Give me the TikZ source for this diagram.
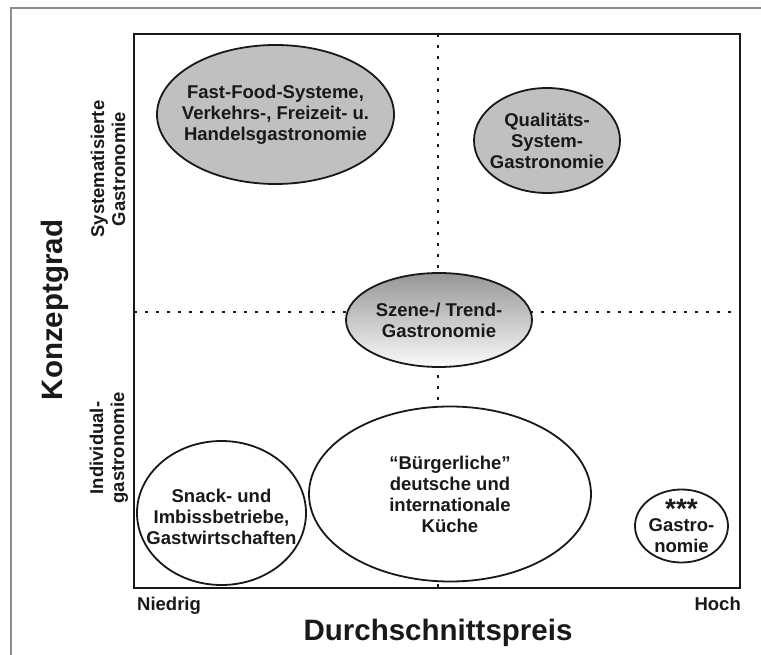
\documentclass[tikz,border=0pt]{standalone}
\usepackage{fontspec}
\setmainfont{Liberation Sans}
\usetikzlibrary{shapes.geometric}
\definecolor{ellgray}{RGB}{192,192,192}
\definecolor{txtcol}{RGB}{25,25,25}
\definecolor{framegray}{RGB}{140,140,140}
\tikzset{
  oval/.style={ellipse, draw=txtcol, line width=1.8pt, inner sep=0pt},
  grayoval/.style={oval, fill=ellgray},
  whiteoval/.style={oval, fill=white},
  txt/.style={text=txtcol, font=\bfseries\fontsize{18.5}{21}\selectfont, align=center, inner sep=0pt},
  axlabel/.style={text=txtcol, font=\bfseries\fontsize{29.5}{34}\selectfont, inner sep=0pt},
  dotline/.style={line width=1.4pt, dash pattern=on 3pt off 8pt, txtcol}
}
\begin{document}
\begin{tikzpicture}[x=1pt,y=-1pt]
\useasboundingbox (0,0) rectangle (761,655);
% outer frame
\coordinate (fb) at (11,655);
\coordinate (ftl) at (11,8);
\coordinate (fr) at (761,8);
\draw[framegray, line width=1.2pt] (fb) -- (ftl) -- (fr);
% plot corners
\coordinate (tl) at (134,34);
\coordinate (br) at (740,588);
\coordinate (vt) at (438,34);
\coordinate (vb) at (438,588);
\coordinate (hl) at (134,312);
\coordinate (hr) at (740,312);
\draw[dotline] (vt) -- (vb);
\draw[dotline] (hl) -- (hr);
% ellipses
\node[grayoval, minimum width=237pt, minimum height=139pt] (ff) at (275.5,114.5) {};
\node[txt] at (ff.center) {Fast-Food-Systeme,\\Verkehrs-, Freizeit- u.\\Handelsgastronomie};
\node[grayoval, minimum width=146pt, minimum height=105pt] (qs) at (547,140.5) {};
\node[txt] at (qs.center) {Qualitäts-\\System-\\Gastronomie};
\node[oval, minimum width=186pt, minimum height=94pt, top color={rgb,255:red,150;green,150;blue,150}, bottom color={rgb,255:red,250;green,250;blue,250}] (sz) at (439,320) {};
\node[txt] at (sz.center) {Szene-/ Trend-\\Gastronomie};
\node[whiteoval, minimum width=169pt, minimum height=144pt] (sn) at (221.5,513) {};
\node[txt] at ([yshift=-4pt]sn.center) {Snack- und\\Imbissbetriebe,\\Gastwirtschaften};
\node[whiteoval, minimum width=282pt, minimum height=175pt] (bg) at (450,494) {};
\node[txt] at (bg.center) {“Bürgerliche”\\deutsche und\\internationale\\Küche};
\node[whiteoval, minimum width=93pt, minimum height=73pt] (st) at (681.5,526) {};
\node[txt, font=\bfseries\fontsize{28}{21}\selectfont, anchor=north] (stars) at (681.5,499.5) {***};
\node[txt, anchor=north] (stt) at (681.5,518.5) {Gastro-\\nomie};
% plot frame
\draw[txtcol, line width=2.4pt] (tl) rectangle (br);
% axis labels
\node[txt, anchor=base west] (lo) at (137,610) {Niedrig};
\node[txt, anchor=base east] (hi) at (741,610) {Hoch};
\node[axlabel, anchor=base] (xl) at (438,640) {Durchschnittspreis};
\node[axlabel, anchor=base, rotate=90] (yl) at (62,310) {Konzeptgrad};
\node[txt, rotate=90] (sys) at (108,169) {Systematisierte\\Gastronomie};
\node[txt, rotate=90] (ind) at (109,448) {Individual-\\gastronomie};
\end{tikzpicture}
\end{document}
